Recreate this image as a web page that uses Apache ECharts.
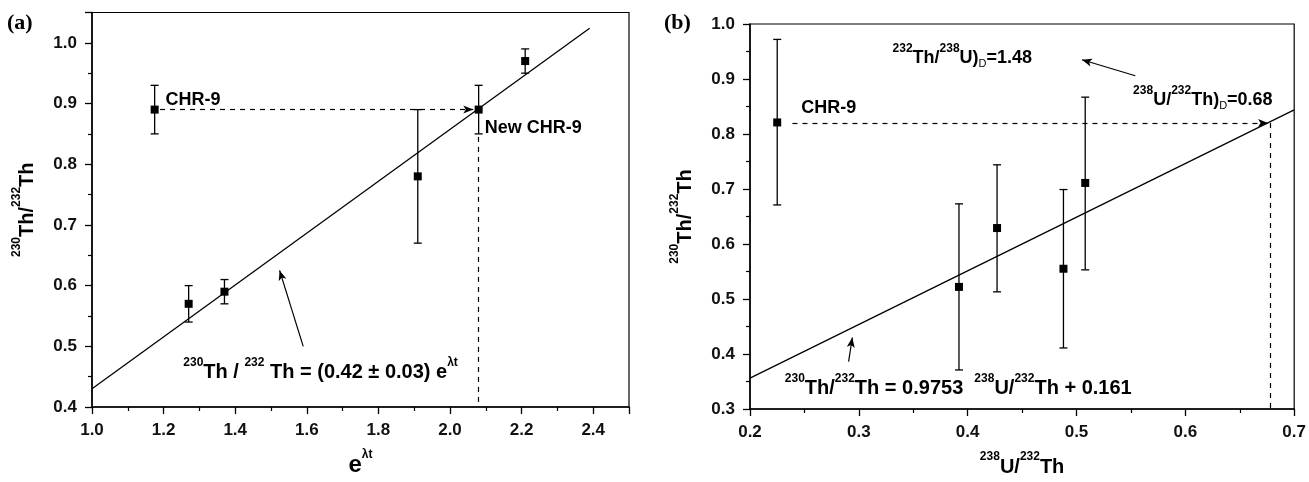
<!DOCTYPE html>
<html>
<head>
<meta charset="utf-8">
<script src="https://cdn.jsdelivr.net/npm/echarts@6/dist/echarts.min.js"></script>
<style>
html,body{margin:0;padding:0;background:#fff;}
#chart{width:1309px;height:482px;}
</style>
</head>
<body>
<div id="chart"></div>
<script>
// ---------- Data: panel (a) ----------
const aX  = [1.175, 1.27, 1.37, 1.91, 2.08, 2.21];
const aY  = [0.89, 0.57, 0.59, 0.78, 0.89, 0.97];
const aLo = [0.85, 0.54, 0.57, 0.67, 0.85, 0.95];
const aHi = [0.93, 0.60, 0.61, 0.89, 0.93, 0.99];
const aFitX = [1.0, 2.39];
const aFitY = [0.43, 1.024];
const aXTicks = [1.0, 1.2, 1.4, 1.6, 1.8, 2.0, 2.2, 2.4];
const aYTicks = [0.4, 0.5, 0.6, 0.7, 0.8, 0.9, 1.0];

// ---------- Data: panel (b) ----------
const bX  = [0.225, 0.392, 0.427, 0.488, 0.508];
const bY  = [0.821, 0.522, 0.629, 0.555, 0.711];
const bLo = [0.671, 0.371, 0.513, 0.411, 0.553];
const bHi = [0.972, 0.673, 0.744, 0.699, 0.867];
const bFitX = [0.2, 0.7];
const bFitY = [0.356, 0.844];
const bXTicks = [0.2, 0.3, 0.4, 0.5, 0.6, 0.7];
const bYTicks = [0.3, 0.4, 0.5, 0.6, 0.7, 0.8, 0.9, 1.0];

const FONT = 'Liberation Sans, Arial, sans-serif';
const INK = '#000';
const chart = echarts.init(document.getElementById('chart'));

const rich = {
  m:   {fontSize: 18, fontWeight: 'bold', fontFamily: FONT, color: INK, lineHeight: 24, verticalAlign: 'bottom'},
  big: {fontSize: 20, fontWeight: 'bold', fontFamily: FONT, color: INK, lineHeight: 26, verticalAlign: 'bottom'},
  e:   {fontSize: 24, fontWeight: 'bold', fontFamily: FONT, color: INK, lineHeight: 28, verticalAlign: 'bottom'},
  sup: {fontSize: 12, fontWeight: 'bold', fontFamily: FONT, color: INK, lineHeight: 14, verticalAlign: 'top'},
  sub: {fontSize: 11, fontWeight: 'normal', fontFamily: FONT, color: INK, lineHeight: 12, verticalAlign: 'bottom', padding: [0,0,-3,0]}
};

function errorBarSeries(xs, lo, hi, xi) {
  return {
    type: 'custom', xAxisIndex: xi, yAxisIndex: xi, silent: true, z: 3,
    data: xs.map((x, i) => [x, lo[i], hi[i]]),
    renderItem: function (params, api) {
      const p1 = api.coord([api.value(0), api.value(1)]);
      const p2 = api.coord([api.value(0), api.value(2)]);
      const w = 4;
      const st = {stroke: INK, lineWidth: 1.3};
      return {type: 'group', children: [
        {type: 'line', shape: {x1: p1[0], y1: p1[1], x2: p2[0], y2: p2[1]}, style: st},
        {type: 'line', shape: {x1: p1[0]-w, y1: p1[1], x2: p1[0]+w, y2: p1[1]}, style: st},
        {type: 'line', shape: {x1: p2[0]-w, y1: p2[1], x2: p2[0]+w, y2: p2[1]}, style: st}
      ]};
    }
  };
}

function pointSeries(xs, ys, xi) {
  return {type: 'scatter', xAxisIndex: xi, yAxisIndex: xi, symbol: 'rect', symbolSize: 8, z: 5,
    itemStyle: {color: INK, opacity: 1}, silent: true,
    data: xs.map((x, i) => [x, ys[i]])};
}

function fitSeries(xs, ys, xi) {
  return {type: 'line', xAxisIndex: xi, yAxisIndex: xi, symbol: 'none', silent: true, z: 2,
    lineStyle: {color: INK, width: 1.3},
    data: xs.map((x, i) => [x, ys[i]])};
}

function guideSeries(xi, lines) {
  return {type: 'line', xAxisIndex: xi, yAxisIndex: xi, data: [], silent: true,
    markLine: {silent: true, animation: false, label: {show: false},
      data: lines.map(l => [
        {coord: l.from, symbol: 'none', lineStyle: {type: l.dash ? [5, 5] : 'solid', color: INK, width: 1.2}},
        {coord: l.to, symbol: l.arrow ? 'arrow' : 'none', symbolSize: [6, 10]}
      ])}};
}

function annotSeries(xi, items) {
  return {type: 'scatter', xAxisIndex: xi, yAxisIndex: xi, symbolSize: 0, silent: true, z: 6,
    itemStyle: {opacity: 1},
    data: items.map(t => ({value: t.at,
      label: {show: true, position: 'right', distance: 0, formatter: t.text, rich: rich,
        fontSize: t.size || 18, fontWeight: 'bold', fontFamily: FONT, color: INK}}))};
}

function mkX(gi, min, max, ticks, name, gap) {
  return {type: 'value', gridIndex: gi, min: min, max: max, interval: +(ticks[1]-ticks[0]).toFixed(3),
    name: name, nameLocation: 'middle', nameGap: gap,
    nameTextStyle: {rich: rich},
    axisLine: {show: true, onZero: false, lineStyle: {color: INK, width: 1.5}},
    axisTick: {show: true, length: 7, lineStyle: {color: INK, width: 1.3}},
    minorTick: {show: true, splitNumber: 2, length: 4, lineStyle: {color: INK, width: 1.2}},
    splitLine: {show: false},
    axisLabel: {margin: 15, fontSize: 17, fontWeight: 'bold', fontFamily: FONT, color: '#111',
      showMaxLabel: ticks.includes(max),
      formatter: v => ticks.some(t => Math.abs(t - v) < 1e-6) ? v.toFixed(1) : ''}};
}
function mkY(gi, min, max, ticks, name, gap) {
  const o = mkX(gi, min, max, ticks, name, gap);
  o.nameRotate = 90;
  o.axisLabel.margin = 15;
  return o;
}

const option = {
  animation: false,
  backgroundColor: '#fff',
  grid: [
    {left: 92, top: 12.5, right: 680, bottom: 73, show: true, borderColor: INK, borderWidth: 1.2, backgroundColor: 'transparent'},
    {left: 750, top: 24, right: 13, bottom: 70, show: true, borderColor: INK, borderWidth: 1.2, backgroundColor: 'transparent'}
  ],
  xAxis: [
    mkX(0, 1.0, 2.5, aXTicks, '{e|e}{sup|λt}', 42),
    mkX(1, 0.2, 0.7, bXTicks, '{sup|238}{big|U/}{sup|232}{big|Th}', 42)
  ],
  yAxis: [
    mkY(0, 0.4, 1.05, aYTicks, '{sup|230}{big|Th/}{sup|232}{big|Th}', 55),
    mkY(1, 0.3, 1.0, bYTicks, '{sup|230}{big|Th/}{sup|232}{big|Th}', 55)
  ],
  graphic: [
    {type: 'text', left: 7, top: 12, style: {text: '(a)', font: 'bold 22px "Liberation Serif", "DejaVu Serif", serif', fill: INK}},
    {type: 'text', left: 664, top: 12, style: {text: '(b)', font: 'bold 22px "Liberation Serif", "DejaVu Serif", serif', fill: INK}}
  ],
  series: [
    fitSeries(aFitX, aFitY, 0),
    errorBarSeries(aX, aLo, aHi, 0),
    pointSeries(aX, aY, 0),
    guideSeries(0, [
      {from: [1.19, 0.89], to: [2.065, 0.89], dash: true, arrow: true},
      {from: [2.08, 0.845], to: [2.08, 0.4], dash: true},
      {from: [1.59, 0.50], to: [1.524, 0.625], arrow: true}
    ]),
    annotSeries(0, [
      {at: [1.205, 0.91], text: '{m|CHR-9}'},
      {at: [2.097, 0.864], text: '{m|New CHR-9}'},
      {at: [1.255, 0.462], text: '{sup|230}{big|Th / }{sup|232}{big| Th = (0.42 ± 0.03) e}{sup|λt}'}
    ]),

    fitSeries(bFitX, bFitY, 1),
    errorBarSeries(bX, bLo, bHi, 1),
    pointSeries(bX, bY, 1),
    guideSeries(1, [
      {from: [0.239, 0.82], to: [0.676, 0.82], dash: true, arrow: true},
      {from: [0.678, 0.82], to: [0.678, 0.3], dash: true},
      {from: [0.554, 0.906], to: [0.505, 0.935], arrow: true},
      {from: [0.2906, 0.386], to: [0.294, 0.43], arrow: true}
    ]),
    annotSeries(1, [
      {at: [0.247, 0.852], text: '{m|CHR-9}'},
      {at: [0.331, 0.944], text: '{sup|232}{m|Th/}{sup|238}{m|U)}{sub|D}{m|=1.48}'},
      {at: [0.552, 0.868], text: '{sup|238}{m|U/}{sup|232}{m|Th)}{sub|D}{m|=0.68}'},
      {at: [0.232, 0.342], text: '{sup|230}{big|Th/}{sup|232}{big|Th = 0.9753  }{sup|238}{big|U/}{sup|232}{big|Th + 0.161}'}
    ])
  ]
};
chart.setOption(option);
</script>
</body>
</html>
